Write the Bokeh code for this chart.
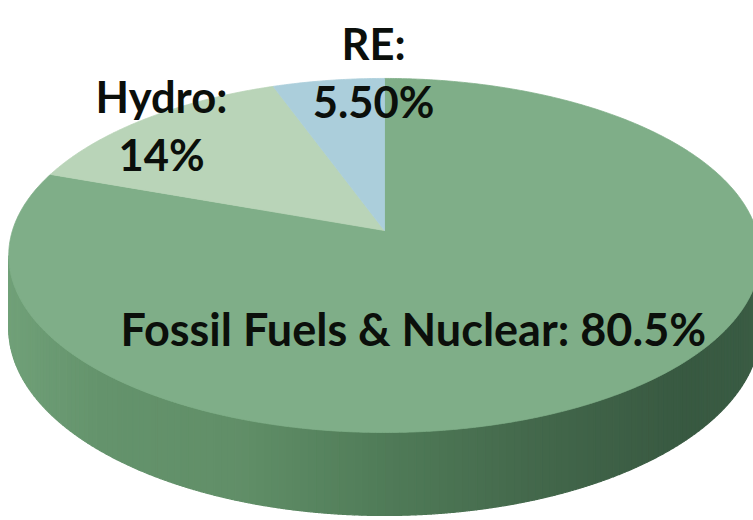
import numpy as np
from bokeh.plotting import figure
from bokeh.models import Range1d
from bokeh.core.properties import value
from bokeh.embed import file_html
from bokeh.resources import INLINE

# Electricity generation mix (share of total, %)
sources = ["Fossil Fuels & Nuclear", "Hydro", "RE"]
shares = [80.5, 14.0, 5.5]
label_heads = ["Fossil Fuels & Nuclear:", "Hydro:", "RE:"]
label_values = ["80.5%", "14%", "5.50%"]

# styling
top_colors = ["#7fae88", "#b9d4b8", "#abcedb"]
side_stops = [  # (fraction across the rim, rgb)
    (0.00, (112, 160, 120)),
    (0.12, (100, 147, 108)),
    (0.30, (97, 143, 104)),
    (0.50, (80, 123, 88)),
    (0.72, (66, 102, 74)),
    (0.90, (56, 89, 65)),
    (1.00, (58, 92, 68)),
]

W, H = 753, 520
CX, CY = 384, 230      # projected pie centre
A, B = 372, 173.5      # ellipse half axes
K = 0.141              # perspective strength (near side larger)
DEPTH = 71.3           # rim thickness


def project(phi, drop=0.0):
    """Angle clockwise from 12 o'clock -> screen coords of the pie top (or rim bottom)."""
    u = np.sin(phi)
    v = -np.cos(phi)
    den = 1.0 - K * v
    return CX + A * u / den, CY + (B * v + drop) / den


def side_color(f):
    for (f0, c0), (f1, c1) in zip(side_stops[:-1], side_stops[1:]):
        if f0 <= f <= f1:
            t = (f - f0) / (f1 - f0) if f1 > f0 else 0
            r, g, b = (int(round(c0[i] + t * (c1[i] - c0[i]))) for i in range(3))
            return "#%02x%02x%02x" % (r, g, b)
    return "#%02x%02x%02x" % side_stops[-1][1]


p = figure(width=W, height=H, output_backend="svg", toolbar_location=None,
           x_range=Range1d(0, W), y_range=Range1d(H, 0),
           min_border=0, outline_line_color=None, background_fill_color="white")
p.axis.visible = False
p.grid.visible = False

# --- rim (front side of the disc) ---
phis = np.linspace(0, 2 * np.pi, 3601)
xs_all, _ = project(phis)
i_right = int(np.argmax(xs_all))
i_left = int(np.argmin(xs_all))
rim = phis[i_right:i_left + 1]
xt, yt = project(rim)
xb, yb = project(rim, DEPTH)
xmin, xmax = xs_all.min(), xs_all.max()
n_strips = 160
edges = np.linspace(0, len(rim) - 1, n_strips + 1).astype(int)
strip_x, strip_y, strip_c = [], [], []
for a, b in zip(edges[:-1], edges[1:]):
    sl = slice(a, b + 1)
    strip_x.append(list(xt[sl]) + list(xb[sl][::-1]))
    strip_y.append(list(yt[sl]) + list(yb[sl][::-1]))
    xm = 0.5 * (xt[a] + xt[b])
    strip_c.append(side_color((xm - xmin) / (xmax - xmin)))
p.patches(strip_x, strip_y, fill_color=strip_c, line_color=strip_c, line_width=1.2)

# --- top face wedges, clockwise from 12 o'clock ---
total = sum(shares)
start = 0.0
for share, col in zip(shares, top_colors):
    end = start + 2 * np.pi * share / total
    arc = np.linspace(start, end, max(int(share * 8), 20))
    ax, ay = project(arc)
    p.patch([CX] + list(ax), [CY] + list(ay), fill_color=col, line_color=col, line_width=0.8)
    start = end

# --- labels ---
font = value("Lato")
fossil_text = f"{label_heads[0]} {label_values[0]}"
p.text(x=[120], y=[328], text=[fossil_text], text_font=font, text_font_style="bold",
       text_font_size="45px", text_color="#0b0f0b", text_align="left",
       text_baseline="alphabetic")

two_line = {1: (161, 95, 153), 2: (373, 42, 100)}
for i, (lx, y1, y2) in two_line.items():
    p.text(x=[lx, lx], y=[y1, y2], text=[label_heads[i], label_values[i]], text_font=font,
           text_font_style="bold", text_font_size="43.5px", text_color="#0b0f0b",
           text_align="center", text_baseline="alphabetic")

open("out.html", "w").write(file_html(p, INLINE))
